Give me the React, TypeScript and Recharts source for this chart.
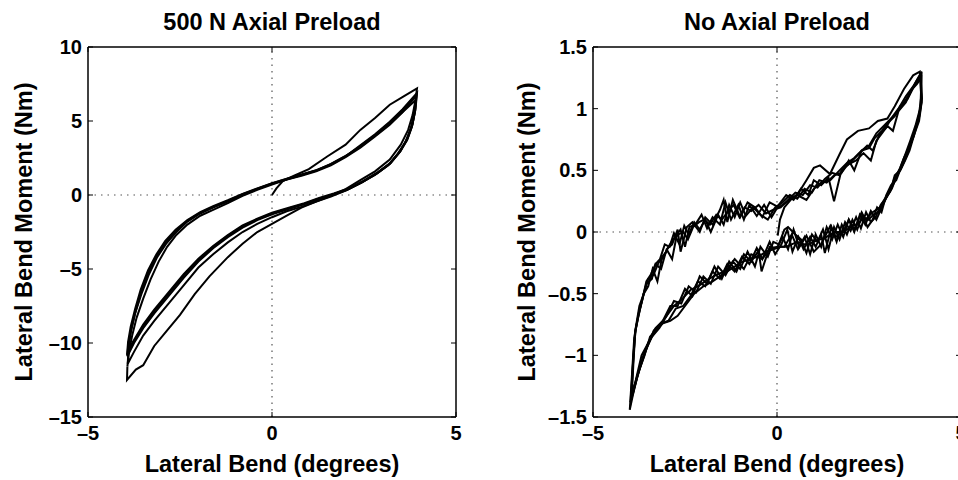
import { LineChart, Line, XAxis, YAxis, ReferenceLine, Label } from "recharts";

const FONT = "'Liberation Sans', Arial, Helvetica, sans-serif";

const xTicks = [-5, 0, 5];
const leftYTicks = [-15, -10, -5, 0, 5, 10];
const rightYTicks = [-1.5, -1, -0.5, 0, 0.5, 1, 1.5];

type Pt = [number, number];

// 500 N axial preload, one array per loading cycle
const preloadCycle1: Pt[] = [
  [0, 0], [0.12, 0.45], [0.3, 0.95], [0.6, 1.3], [1.0, 1.75], [1.5, 2.6], [2.0, 3.4], [2.4, 4.4],
  [2.8, 5.2], [3.2, 6.1], [3.6, 6.7], [3.94, 7.2],
  [3.9, 6.4], [3.82, 5.4], [3.7, 4.4], [3.5, 3.4], [3.2, 2.4], [2.8, 1.6], [2.4, 1.0], [2.0, 0.4],
  [1.6, -0.05], [1.2, -0.45], [0.8, -0.85], [0.4, -1.4], [0.0, -1.95], [-0.4, -2.5], [-0.8, -3.3],
  [-1.2, -4.2], [-1.7, -5.5], [-2.1, -6.7], [-2.5, -8.1], [-2.9, -9.3], [-3.2, -10.2], [-3.5, -11.5],
  [-3.7, -11.8], [-3.94, -12.5], [-3.93, -11.6],
];
const preloadCycle2: Pt[] = [
  [-3.93, -11.6], [-3.88, -10.5], [-3.8, -9.5], [-3.68, -8.3], [-3.5, -7.0], [-3.3, -5.7], [-3.08, -4.5],
  [-2.85, -3.5], [-2.6, -2.7], [-2.3, -2.0], [-1.95, -1.4], [-1.6, -1.0], [-1.2, -0.55], [-0.8, -0.05],
  [-0.4, 0.35], [0.0, 0.7], [0.4, 1.05], [0.8, 1.35], [1.2, 1.65], [1.6, 2.1], [2.0, 2.65], [2.4, 3.25],
  [2.8, 4.0], [3.2, 4.8], [3.55, 5.6], [3.9, 6.4],
  [3.86, 5.5], [3.77, 4.5], [3.63, 3.6], [3.42, 2.8], [3.15, 2.0], [2.8, 1.35], [2.4, 0.8], [2.0, 0.3],
  [1.6, -0.1], [1.2, -0.45], [0.8, -0.8], [0.4, -1.1], [0.0, -1.5], [-0.4, -1.95], [-0.8, -2.5],
  [-1.2, -3.2], [-1.6, -4.0], [-2.0, -4.9], [-2.4, -6.1], [-2.8, -7.3], [-3.2, -8.5], [-3.5, -9.5],
  [-3.75, -10.6], [-3.92, -11.4],
];
const preloadCycle3: Pt[] = [
  [-3.92, -11.4], [-3.9, -10.4], [-3.83, -9.2], [-3.72, -8.0], [-3.55, -6.7], [-3.35, -5.4], [-3.12, -4.2],
  [-2.88, -3.3], [-2.6, -2.5], [-2.3, -1.8], [-1.95, -1.25], [-1.6, -0.85], [-1.2, -0.45], [-0.8, 0.0],
  [-0.4, 0.4], [0.0, 0.75], [0.4, 1.05], [0.8, 1.3], [1.2, 1.6], [1.6, 2.0], [2.0, 2.55], [2.4, 3.2],
  [2.8, 3.95], [3.2, 4.75], [3.55, 5.6], [3.92, 6.7],
  [3.88, 5.6], [3.8, 4.6], [3.67, 3.7], [3.47, 2.9], [3.2, 2.1], [2.85, 1.45], [2.45, 0.85], [2.05, 0.35],
  [1.65, 0.0], [1.25, -0.3], [0.85, -0.65], [0.45, -0.95], [0.0, -1.3], [-0.4, -1.7], [-0.8, -2.2],
  [-1.2, -2.85], [-1.6, -3.6], [-2.0, -4.5], [-2.4, -5.6], [-2.8, -6.8], [-3.2, -8.0], [-3.5, -9.0],
  [-3.75, -10.0], [-3.93, -10.9],
];
const preloadCycle4: Pt[] = [
  [-3.93, -10.9], [-3.9, -10.0], [-3.82, -9.0], [-3.7, -7.8], [-3.55, -6.5], [-3.35, -5.2], [-3.12, -4.05],
  [-2.88, -3.15], [-2.6, -2.4], [-2.3, -1.75], [-1.95, -1.2], [-1.6, -0.8], [-1.2, -0.4], [-0.8, 0.05],
  [-0.4, 0.42], [0.0, 0.78], [0.4, 1.08], [0.8, 1.35], [1.2, 1.65], [1.6, 2.05], [2.0, 2.6], [2.4, 3.3],
  [2.8, 4.05], [3.2, 4.9], [3.55, 5.75], [3.93, 6.8],
  [3.89, 5.7], [3.81, 4.7], [3.68, 3.8], [3.48, 2.95], [3.22, 2.15], [2.87, 1.5], [2.47, 0.9], [2.07, 0.4],
  [1.67, 0.05], [1.27, -0.25], [0.87, -0.6], [0.47, -0.9], [0.0, -1.25], [-0.4, -1.65], [-0.8, -2.1],
  [-1.2, -2.75], [-1.6, -3.5], [-2.0, -4.4], [-2.4, -5.45], [-2.8, -6.65], [-3.2, -7.85], [-3.5, -8.85],
  [-3.75, -9.9], [-3.94, -10.8],
];
const preloadCycle5: Pt[] = [
  [-3.94, -10.8], [-3.91, -9.9], [-3.84, -8.9], [-3.72, -7.7], [-3.57, -6.4], [-3.37, -5.1], [-3.14, -4.0],
  [-2.9, -3.1], [-2.62, -2.35], [-2.3, -1.7], [-1.95, -1.15], [-1.6, -0.75], [-1.2, -0.35], [-0.8, 0.08],
  [-0.4, 0.45], [0.0, 0.8], [0.4, 1.1], [0.8, 1.38], [1.2, 1.68], [1.6, 2.08], [2.0, 2.62], [2.4, 3.35],
  [2.8, 4.1], [3.2, 4.95], [3.55, 5.8], [3.94, 6.9],
  [3.9, 5.8], [3.82, 4.8], [3.69, 3.9], [3.5, 3.0], [3.23, 2.2], [2.88, 1.55], [2.48, 0.95], [2.08, 0.45],
  [1.68, 0.1], [1.28, -0.2], [0.88, -0.55], [0.48, -0.85], [0.0, -1.2], [-0.4, -1.6], [-0.8, -2.05],
  [-1.2, -2.7], [-1.6, -3.45], [-2.0, -4.3], [-2.4, -5.35], [-2.8, -6.55], [-3.2, -7.75], [-3.5, -8.75],
  [-3.75, -9.8], [-3.94, -10.6],
];

// no axial preload
const freeCycle1: Pt[] = [
  [0.02, -0.03], [0.08, 0.1], [0.2, 0.2], [0.4, 0.27], [0.57, 0.31], [0.8, 0.42], [1.0, 0.52], [1.17, 0.54],
  [1.44, 0.47], [1.7, 0.63], [1.9, 0.75], [2.2, 0.82], [2.5, 0.84], [2.74, 0.9], [3.0, 0.92], [3.2, 1.02],
  [3.45, 1.16], [3.7, 1.27], [3.88, 1.3],
  [3.92, 1.1], [3.87, 0.98], [3.76, 0.86], [3.62, 0.74], [3.5, 0.64], [3.35, 0.52], [3.2, 0.44], [3.1, 0.36],
  [2.95, 0.28], [2.8, 0.2], [2.6, 0.16], [2.4, 0.1], [2.3, 0.16], [2.1, 0.02], [1.95, 0.1], [1.8, 0.0],
  [1.6, -0.04], [1.45, 0.05], [1.2, -0.1], [1.0, -0.16], [0.8, -0.03], [0.57, -0.14], [0.4, -0.02],
  [0.2, -0.12], [0.0, -0.12], [-0.2, -0.14], [-0.4, -0.22], [-0.7, -0.18], [-0.9, -0.3], [-1.15, -0.22],
  [-1.4, -0.32], [-1.6, -0.34], [-1.85, -0.38], [-2.1, -0.43], [-2.35, -0.47], [-2.6, -0.55], [-2.8, -0.6],
  [-3.05, -0.7], [-3.25, -0.78], [-3.45, -0.85], [-3.6, -1.0], [-3.78, -1.15], [-3.9, -1.3], [-4.0, -1.44],
];
const freeCycle2: Pt[] = [
  [-4.0, -1.44], [-3.95, -1.2], [-3.88, -0.86], [-3.78, -0.7], [-3.64, -0.52], [-3.55, -0.42], [-3.4, -0.38],
  [-3.3, -0.26], [-3.15, -0.3], [-3.0, -0.14], [-2.85, -0.1], [-2.7, 0.02], [-2.62, -0.16], [-2.45, 0.04],
  [-2.3, 0.08], [-2.1, 0.0], [-1.95, 0.12], [-1.75, 0.06], [-1.55, 0.18], [-1.45, 0.26], [-1.35, 0.08],
  [-1.2, 0.26], [-1.0, 0.12], [-0.8, 0.24], [-0.6, 0.2], [-0.4, 0.12], [-0.2, 0.24], [0.05, 0.2], [0.3, 0.25],
  [0.55, 0.3], [0.8, 0.26], [1.0, 0.35], [1.2, 0.4], [1.45, 0.42], [1.7, 0.5], [1.9, 0.56], [2.1, 0.6],
  [2.3, 0.66], [2.5, 0.7], [2.7, 0.8], [2.9, 0.86], [3.1, 0.92], [3.3, 1.0], [3.5, 1.1], [3.7, 1.18],
  [3.9, 1.28],
  [3.92, 1.05], [3.85, 0.93], [3.75, 0.83], [3.62, 0.7], [3.5, 0.6], [3.38, 0.52], [3.25, 0.45], [3.12, 0.35],
  [3.0, 0.3], [2.85, 0.2], [2.7, 0.1], [2.55, 0.17], [2.4, 0.06], [2.25, 0.14], [2.1, 0.0], [1.95, 0.1],
  [1.8, -0.04], [1.65, 0.06], [1.5, -0.06], [1.35, 0.04], [1.2, -0.12], [1.05, -0.02], [0.9, -0.18],
  [0.75, -0.04], [0.6, -0.12], [0.45, 0.02], [0.3, -0.14], [0.15, -0.04], [0.0, -0.13], [-0.2, -0.12],
  [-0.42, -0.32], [-0.5, -0.15], [-0.7, -0.24], [-0.9, -0.18], [-1.1, -0.32], [-1.3, -0.24], [-1.5, -0.38],
  [-1.7, -0.28], [-1.9, -0.42], [-2.1, -0.36], [-2.3, -0.52], [-2.5, -0.46], [-2.7, -0.6], [-2.9, -0.6],
  [-3.1, -0.72], [-3.3, -0.78], [-3.5, -0.9], [-3.68, -1.0], [-3.82, -1.18], [-3.95, -1.35],
];
const freeCycle3: Pt[] = [
  [-3.95, -1.35], [-3.9, -1.05], [-3.85, -0.8], [-3.72, -0.62], [-3.62, -0.5], [-3.5, -0.44], [-3.38, -0.3],
  [-3.25, -0.4], [-3.12, -0.2], [-2.98, -0.15], [-2.85, -0.22], [-2.72, -0.02], [-2.62, 0.02], [-2.5, -0.12],
  [-2.38, 0.04], [-2.22, 0.06], [-2.05, 0.14], [-1.9, 0.03], [-1.75, 0.12], [-1.55, 0.06], [-1.4, 0.24],
  [-1.25, 0.1], [-1.05, 0.22], [-0.9, 0.1], [-0.75, 0.22], [-0.55, 0.13], [-0.35, 0.22], [-0.15, 0.12],
  [0.05, 0.22], [0.25, 0.3], [0.45, 0.26], [0.65, 0.35], [0.85, 0.3], [1.0, 0.42], [1.2, 0.38], [1.4, 0.44],
  [1.55, 0.25], [1.75, 0.5], [1.95, 0.55], [2.15, 0.58], [2.35, 0.64], [2.55, 0.58], [2.7, 0.74], [2.85, 0.8],
  [3.0, 0.86], [3.15, 0.82], [3.3, 0.98], [3.5, 1.05], [3.65, 1.15], [3.8, 1.2], [3.92, 1.25],
  [3.93, 1.05], [3.86, 0.9], [3.74, 0.8], [3.6, 0.66], [3.48, 0.58], [3.35, 0.5], [3.2, 0.46], [3.08, 0.33],
  [2.95, 0.27], [2.82, 0.22], [2.68, 0.12], [2.55, 0.08], [2.42, 0.16], [2.28, 0.03], [2.15, 0.12], [2.0, 0.01],
  [1.85, 0.08], [1.7, -0.06], [1.55, 0.04], [1.4, -0.14], [1.25, 0.02], [1.1, -0.08], [0.95, -0.02],
  [0.8, -0.17], [0.65, -0.06], [0.5, -0.02], [0.3, 0.04], [0.2, 0.02], [0.05, -0.1], [-0.1, -0.08],
  [-0.25, -0.2], [-0.45, -0.12], [-0.6, -0.28], [-0.8, -0.16], [-1.0, -0.3], [-1.2, -0.24], [-1.4, -0.35],
  [-1.6, -0.28], [-1.8, -0.42], [-2.0, -0.36], [-2.2, -0.49], [-2.4, -0.44], [-2.6, -0.58], [-2.8, -0.56],
  [-3.0, -0.68], [-3.2, -0.78], [-3.4, -0.85], [-3.6, -0.98], [-3.75, -1.12], [-3.88, -1.25], [-3.98, -1.38],
];
const freeCycle4: Pt[] = [
  [-3.98, -1.38], [-3.92, -1.1], [-3.86, -0.82], [-3.76, -0.66], [-3.66, -0.55], [-3.55, -0.4], [-3.42, -0.34],
  [-3.3, -0.26], [-3.18, -0.22], [-3.05, -0.1], [-2.92, -0.12], [-2.8, -0.01], [-2.65, -0.1], [-2.52, 0.05],
  [-2.4, -0.02], [-2.25, 0.08], [-2.1, 0.02], [-1.95, 0.1], [-1.8, 0.0], [-1.6, 0.14], [-1.45, 0.06],
  [-1.3, 0.22], [-1.15, 0.12], [-1.0, 0.24], [-0.85, 0.13], [-0.65, 0.2], [-0.45, 0.14], [-0.25, 0.1],
  [-0.05, 0.2], [0.15, 0.24], [0.35, 0.3], [0.55, 0.27], [0.75, 0.35], [0.95, 0.32], [1.15, 0.42],
  [1.35, 0.4], [1.55, 0.46], [1.75, 0.48], [1.95, 0.58], [2.1, 0.5], [2.3, 0.66], [2.5, 0.68], [2.65, 0.76],
  [2.85, 0.82], [3.0, 0.88], [3.2, 0.94], [3.35, 1.02], [3.55, 1.08], [3.72, 1.18], [3.9, 1.26],
  [3.94, 1.08], [3.87, 0.94], [3.77, 0.84], [3.64, 0.72], [3.52, 0.62], [3.38, 0.53], [3.24, 0.42],
  [3.1, 0.38], [2.97, 0.3], [2.84, 0.16], [2.72, 0.2], [2.6, 0.1], [2.46, 0.04], [2.32, 0.14], [2.18, 0.02],
  [2.05, 0.1], [1.9, -0.02], [1.76, 0.06], [1.62, -0.08], [1.48, 0.04], [1.3, -0.17], [1.2, -0.02],
  [1.05, -0.12], [0.9, -0.04], [0.72, -0.14], [0.58, -0.04], [0.42, -0.16], [0.28, 0.02], [0.12, -0.1],
  [-0.05, -0.18], [-0.2, -0.08], [-0.4, -0.22], [-0.55, -0.13], [-0.75, -0.26], [-0.95, -0.2], [-1.15, -0.32],
  [-1.35, -0.26], [-1.55, -0.38], [-1.75, -0.32], [-1.95, -0.44], [-2.15, -0.4], [-2.35, -0.52],
  [-2.55, -0.6], [-2.75, -0.62], [-2.95, -0.72], [-3.15, -0.74], [-3.35, -0.8], [-3.55, -0.95],
  [-3.72, -1.1], [-3.86, -1.24], [-3.96, -1.34],
];
const freeCycle5: Pt[] = [
  [-3.96, -1.34], [-3.9, -1.0], [-3.84, -0.78], [-3.74, -0.6], [-3.62, -0.5], [-3.5, -0.38], [-3.36, -0.35],
  [-3.22, -0.25], [-3.08, -0.2], [-2.95, -0.12], [-2.82, -0.06], [-2.68, -0.02], [-2.55, 0.0], [-2.42, -0.06],
  [-2.28, 0.04], [-2.12, 0.08], [-1.98, 0.1], [-1.82, 0.06], [-1.65, 0.14], [-1.5, 0.1], [-1.35, 0.16],
  [-1.18, 0.22], [-1.02, 0.12], [-0.88, 0.2], [-0.7, 0.17], [-0.5, 0.22], [-0.3, 0.15], [-0.1, 0.18],
  [0.1, 0.2], [0.3, 0.26], [0.5, 0.32], [0.7, 0.3], [0.9, 0.38], [1.1, 0.36], [1.3, 0.43], [1.5, 0.48],
  [1.7, 0.46], [1.9, 0.54], [2.05, 0.58], [2.25, 0.64], [2.45, 0.7], [2.6, 0.66], [2.8, 0.8], [2.95, 0.84],
  [3.1, 0.92], [3.25, 0.96], [3.45, 1.05], [3.6, 1.12], [3.78, 1.22], [3.93, 1.3],
  [3.9, 1.02], [3.83, 0.9], [3.72, 0.78], [3.58, 0.68], [3.45, 0.6], [3.32, 0.5], [3.18, 0.4], [3.05, 0.32],
  [2.9, 0.24], [2.76, 0.16], [2.62, 0.14], [2.48, 0.1], [2.35, 0.12], [2.2, 0.06], [2.05, 0.05], [1.9, 0.02],
  [1.75, 0.0], [1.6, 0.0], [1.45, -0.02], [1.3, -0.05], [1.15, -0.06], [1.0, -0.08], [0.85, -0.1],
  [0.7, -0.1], [0.55, -0.08], [0.4, -0.1], [0.25, -0.12], [0.1, -0.12], [-0.1, -0.14], [-0.3, -0.16],
  [-0.5, -0.2], [-0.75, -0.22], [-1.0, -0.25], [-1.25, -0.3], [-1.5, -0.35], [-1.75, -0.4], [-2.0, -0.44],
  [-2.25, -0.5], [-2.5, -0.6], [-2.7, -0.68], [-2.9, -0.72], [-3.1, -0.74], [-3.3, -0.8], [-3.5, -0.9],
  [-3.65, -1.02], [-3.8, -1.18], [-3.92, -1.32],
];

const preloadCycles = [preloadCycle1, preloadCycle2, preloadCycle3, preloadCycle4, preloadCycle5];
const freeCycles = [freeCycle1, freeCycle2, freeCycle3, freeCycle4, freeCycle5];

const fmt = (v: number) => (v < 0 ? "\u2013" + Math.abs(v) : String(v));
const blank = () => "";

const tickStyle = { fontSize: 20, fontWeight: 700, fill: "#000", fontFamily: FONT };
const labelStyle = { fontSize: 23.5, fontWeight: 700, fill: "#000", fontFamily: FONT };
const axisLine = { stroke: "#000", strokeWidth: 1.5 };
const tickLine = { stroke: "#000", strokeWidth: 1 };

interface PanelProps {
  title: string;
  cycles: Pt[][];
  yDomain: [number, number];
  yTicks: number[];
  left: number;
  width: number;
  yAxisWidth: number;
  yLabelX: number;
}

function Panel({ title, cycles, yDomain, yTicks, left, width, yAxisWidth, yLabelX }: PanelProps) {
  const plotLeft = yAxisWidth;
  const plotRight = width - 19;
  const cx = (plotLeft + plotRight) / 2;
  return (
    <div style={{ position: "absolute", left, top: 0 }}>
      <LineChart width={width} height={480} margin={{ top: 0, right: 9, bottom: 0, left: 0 }}>
        <XAxis
          xAxisId="b"
          type="number"
          dataKey="x"
          domain={[-5, 5]}
          ticks={xTicks}
          allowDataOverflow
          height={63}
          tickSize={-5}
          tickMargin={14}
          tick={tickStyle}
          tickFormatter={fmt}
          axisLine={axisLine}
          tickLine={tickLine}
        >
          <Label
            content={() => (
              <text x={cx} y={472} textAnchor="middle" style={labelStyle}>
                Lateral Bend (degrees)
              </text>
            )}
          />
        </XAxis>
        <XAxis
          xAxisId="t"
          orientation="top"
          type="number"
          dataKey="x"
          domain={[-5, 5]}
          ticks={xTicks}
          allowDataOverflow
          height={47}
          tickSize={-5}
          tickFormatter={blank}
          axisLine={axisLine}
          tickLine={tickLine}
        >
          <Label
            content={() => (
              <text x={cx} y={30} textAnchor="middle" style={labelStyle}>
                {title}
              </text>
            )}
          />
        </XAxis>
        <YAxis
          yAxisId="l"
          type="number"
          domain={yDomain}
          ticks={yTicks}
          allowDataOverflow
          width={yAxisWidth}
          tickSize={-5}
          tickMargin={11}
          tick={tickStyle}
          tickFormatter={fmt}
          axisLine={axisLine}
          tickLine={tickLine}
        >
          <Label
            content={() => (
              <text
                x={yLabelX}
                y={232}
                textAnchor="middle"
                transform={`rotate(-90 ${yLabelX} 232)`}
                style={labelStyle}
              >
                Lateral Bend Moment (Nm)
              </text>
            )}
          />
        </YAxis>
        <YAxis
          yAxisId="r"
          orientation="right"
          type="number"
          domain={yDomain}
          ticks={yTicks}
          allowDataOverflow
          width={10}
          tickSize={-5}
          tickFormatter={blank}
          axisLine={axisLine}
          tickLine={tickLine}
        />
        <ReferenceLine xAxisId="b" yAxisId="l" x={0} stroke="#555" strokeWidth={1.2} strokeDasharray="1.5 5" />
        <ReferenceLine xAxisId="b" yAxisId="l" y={0} stroke="#555" strokeWidth={1.2} strokeDasharray="1.5 5" />
        {cycles.map((c, i) => (
          <Line
            key={i}
            xAxisId="b"
            yAxisId="l"
            data={c.map(([x, y]) => ({ x, y }))}
            dataKey="y"
            type="linear"
            stroke="#000"
            strokeWidth={2}
            dot={false}
            activeDot={false}
            isAnimationActive={false}
          />
        ))}
      </LineChart>
    </div>
  );
}

export default function App() {
  return (
    <div
      style={{
        position: "absolute",
        left: 0,
        top: 0,
        width: 958,
        height: 480,
        overflow: "hidden",
        background: "#fff",
      }}
    >
      <Panel
        title="500 N Axial Preload"
        cycles={preloadCycles}
        yDomain={[-15, 10]}
        yTicks={leftYTicks}
        left={0}
        width={475}
        yAxisWidth={88}
        yLabelX={32}
      />
      <Panel
        title="No Axial Preload"
        cycles={freeCycles}
        yDomain={[-1.5, 1.5]}
        yTicks={rightYTicks}
        left={480}
        width={500}
        yAxisWidth={113}
        yLabelX={55}
      />
    </div>
  );
}
